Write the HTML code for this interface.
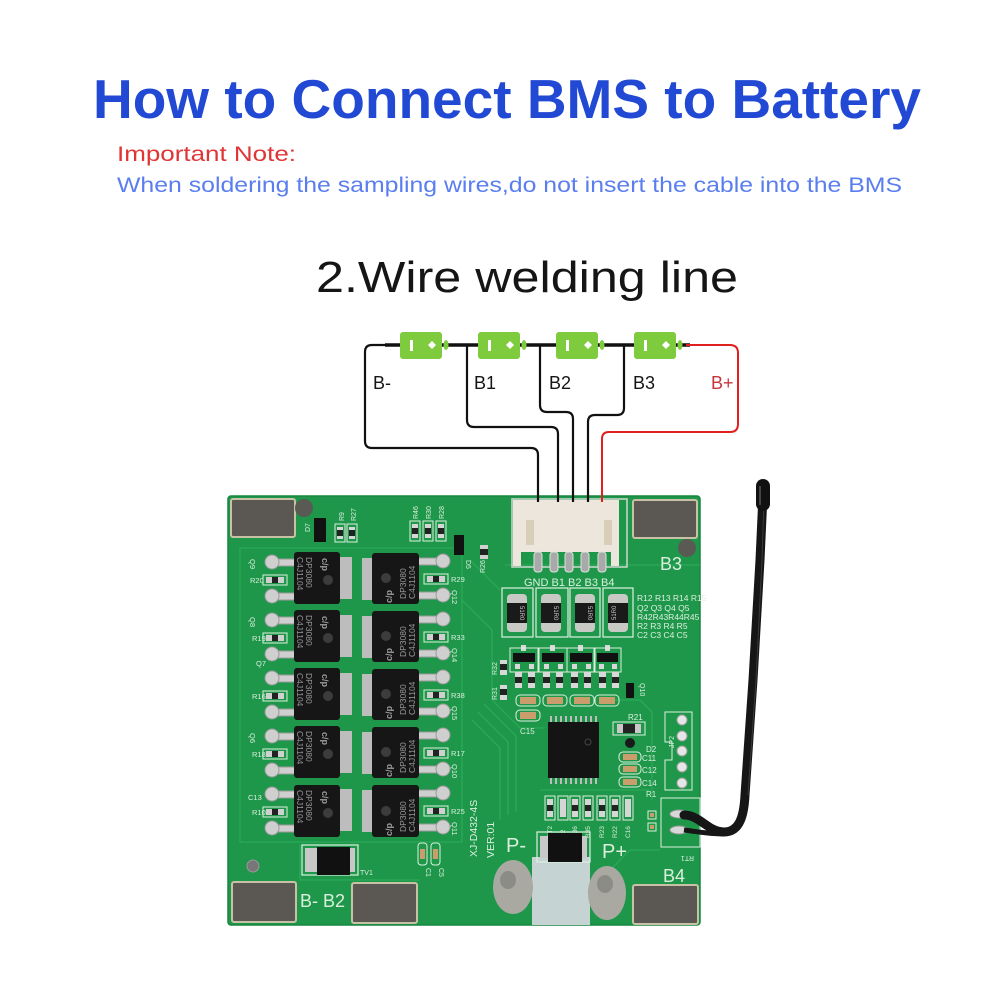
<!DOCTYPE html>
<html><head><meta charset="utf-8"><style>
html,body{margin:0;padding:0;background:#fff;}
svg{display:block;}
</style></head><body>
<svg width="1000" height="1000" viewBox="0 0 1000 1000" xmlns="http://www.w3.org/2000/svg" font-family="Liberation Sans, sans-serif">
<rect width="1000" height="1000" fill="#fff"/>
<!-- headings -->
<text x="93" y="118" font-size="55" font-weight="bold" fill="#2149d4" textLength="828" lengthAdjust="spacingAndGlyphs">How to Connect BMS to Battery</text>
<text x="117" y="161" font-size="21" fill="#e03535" textLength="179" lengthAdjust="spacingAndGlyphs">Important Note:</text>
<text x="117" y="192" font-size="21" fill="#5a7ef0" textLength="785" lengthAdjust="spacingAndGlyphs">When soldering the sampling wires,do not insert the cable into the BMS</text>
<text x="316" y="292" font-size="44" fill="#151515" textLength="422" lengthAdjust="spacingAndGlyphs">2.Wire welding line</text>

<!-- thermistor back part drawn later -->
<!-- board -->
<rect x="228" y="496" width="472" height="429" rx="3" fill="#1f974a" stroke="#17863f" stroke-width="1.5"/>
<!-- traces -->
<g fill="none" stroke="#2bab5a" stroke-width="1.3" opacity="0.9">
<path d="M240,548 H462 V842 H240 Z"/>
<path d="M462,600 L492,630 V700 L520,728 H545"/>
<path d="M470,560 L500,590"/>
<path d="M472,720 L500,748 V820"/>
<path d="M478,712 L508,742 V815"/>
<path d="M484,704 L516,736 V812"/>
<path d="M505,565 H700"/>
<path d="M600,700 H640 L652,712 V800"/>
<path d="M540,790 H650"/>
<path d="M300,845 V880 H420"/>
<path d="M600,880 L630,850 H660"/>
</g>
<!-- pads -->
<g fill="#5b5753" stroke="#c9c1a6" stroke-width="2">
<rect x="231" y="499" width="64" height="38" rx="2"/>
<rect x="633" y="500" width="64" height="38" rx="2"/>
<rect x="232" y="882" width="64" height="40" rx="2"/>
<rect x="352" y="883" width="65" height="40" rx="2"/>
<rect x="633" y="885" width="65" height="39" rx="2"/>
</g>
<circle cx="304" cy="508" r="9" fill="#5a5a55"/>
<circle cx="687" cy="548" r="9" fill="#5a5a55"/>
<circle cx="253" cy="866" r="6" fill="#777" stroke="#999"/>

<!-- silk labels -->
<g fill="#dcefdf" font-size="18">
<text x="660" y="570">B3</text>
<text x="663" y="882">B4</text>
<text x="300" y="907">B-  B2</text>
<text x="506" y="852" font-size="20">P-</text>
<text x="602" y="858" font-size="20">P+</text>
</g>

<!-- connector -->
<rect x="512" y="499" width="115" height="68" fill="none" stroke="#cfd8cf" stroke-width="1.5"/>
<rect x="513" y="500" width="106" height="52" fill="#ece6dc"/>
<rect x="513" y="552" width="8" height="14" fill="#ece6dc"/>
<rect x="611" y="552" width="8" height="14" fill="#ece6dc"/>
<rect x="526" y="520" width="8" height="25" fill="#d9cfb8"/>
<rect x="604" y="520" width="8" height="25" fill="#d9cfb8"/>
<g fill="#a9a9a9" stroke="#e0e0e0" stroke-width="1">
<rect x="534" y="552" width="8" height="20" rx="3"/>
<rect x="550" y="552" width="8" height="20" rx="3"/>
<rect x="565" y="552" width="8" height="20" rx="3"/>
<rect x="581" y="552" width="8" height="20" rx="3"/>
<rect x="598" y="552" width="8" height="20" rx="3"/>
</g>
<text x="524" y="586" font-size="11" fill="#dcefdf">GND B1 B2 B3 B4</text>

<!-- big resistors -->
<g>
<g fill="none" stroke="#dcefdf" stroke-width="1.2">
<rect x="502" y="588" width="31" height="49"/><rect x="536" y="588" width="32" height="49"/><rect x="570" y="588" width="30" height="49"/><rect x="603" y="588" width="30" height="49"/>
</g>
<g fill="#c8c8c4"><rect x="507" y="594" width="20" height="38" rx="4"/><rect x="541" y="594" width="20" height="38" rx="4"/><rect x="575" y="594" width="20" height="38" rx="4"/><rect x="608" y="594" width="20" height="38" rx="4"/></g>
<g fill="#1a1a1a"><rect x="507" y="603" width="20" height="20"/><rect x="541" y="603" width="20" height="20"/><rect x="575" y="603" width="20" height="20"/><rect x="608" y="603" width="20" height="20"/></g>
<g fill="#cfcfcf" font-size="6"><text transform="translate(520,606) rotate(90)">51R0</text><text transform="translate(554,606) rotate(90)">51R0</text><text transform="translate(588,606) rotate(90)">51R0</text><text transform="translate(616,620) rotate(-90)">51R0</text></g>
</g>
<g fill="#dcefdf" font-size="8.5">
<text x="637" y="601">R12 R13 R14 R15</text>
<text x="637" y="611">Q2  Q3  Q4  Q5</text>
<text x="637" y="620">R42R43R44R45</text>
<text x="637" y="629">R2  R3  R4  R5</text>
<text x="637" y="638">C2  C3  C4  C5</text>
</g>

<!-- SOT23 row -->
<g fill="#111"><rect x="513" y="653" width="22" height="9"/><rect x="542" y="653" width="22" height="9"/><rect x="570" y="653" width="22" height="9"/><rect x="597" y="653" width="21" height="9"/></g>
<g fill="#d8d8d8"><rect x="521" y="645" width="5" height="6"/><rect x="550" y="645" width="5" height="6"/><rect x="578" y="645" width="5" height="6"/><rect x="605" y="645" width="5" height="6"/>
<rect x="515" y="664" width="5" height="5"/><rect x="529" y="664" width="5" height="5"/><rect x="544" y="664" width="5" height="5"/><rect x="558" y="664" width="5" height="5"/><rect x="572" y="664" width="5" height="5"/><rect x="586" y="664" width="5" height="5"/><rect x="599" y="664" width="5" height="5"/><rect x="612" y="664" width="5" height="5"/></g>
<g fill="none" stroke="#dcefdf" stroke-width="1"><rect x="510" y="648" width="28" height="24"/><rect x="539" y="648" width="28" height="24"/><rect x="567" y="648" width="28" height="24"/><rect x="594" y="648" width="27" height="24"/></g>
<!-- small resistors -->
<g>
<g fill="#d8d8d8"><rect x="515" y="672" width="7" height="16"/><rect x="528" y="672" width="7" height="16"/><rect x="543" y="672" width="7" height="16"/><rect x="556" y="672" width="7" height="16"/><rect x="571" y="672" width="7" height="16"/><rect x="584" y="672" width="7" height="16"/><rect x="599" y="672" width="7" height="16"/><rect x="612" y="672" width="7" height="16"/><rect x="500" y="660" width="7" height="15"/><rect x="500" y="685" width="7" height="15"/></g>
<g fill="#222"><rect x="515" y="677" width="7" height="6"/><rect x="528" y="677" width="7" height="6"/><rect x="543" y="677" width="7" height="6"/><rect x="556" y="677" width="7" height="6"/><rect x="571" y="677" width="7" height="6"/><rect x="584" y="677" width="7" height="6"/><rect x="599" y="677" width="7" height="6"/><rect x="612" y="677" width="7" height="6"/><rect x="500" y="664" width="7" height="6"/><rect x="500" y="689" width="7" height="6"/></g>
</g>
<!-- caps -->
<g>
<g fill="none" stroke="#dcefdf" stroke-width="1"><rect x="516" y="695" width="24" height="11" rx="4"/><rect x="543" y="695" width="24" height="11" rx="4"/><rect x="570" y="695" width="24" height="11" rx="4"/><rect x="595" y="695" width="24" height="11" rx="4"/><rect x="516" y="710" width="24" height="11" rx="4"/></g>
<g fill="#c99d6c"><rect x="520" y="697" width="16" height="7"/><rect x="547" y="697" width="16" height="7"/><rect x="574" y="697" width="16" height="7"/><rect x="599" y="697" width="16" height="7"/><rect x="520" y="712" width="16" height="7"/></g>
</g>
<text x="520" y="734" font-size="8" fill="#dcefdf">C15</text>
<rect x="626" y="683" width="8" height="15" fill="#111"/>
<text transform="translate(640,683) rotate(90)" font-size="7" fill="#dcefdf">Q10</text>
<text transform="translate(497,675) rotate(-90)" font-size="7" fill="#dcefdf">R32</text>
<text transform="translate(497,700) rotate(-90)" font-size="7" fill="#dcefdf">R31</text>
<text transform="translate(485,573) rotate(-90)" font-size="7" fill="#dcefdf">R26</text>
<rect x="480" y="545" width="8" height="14" fill="#d0d0d0"/><rect x="480" y="549" width="8" height="6" fill="#222"/>

<!-- IC -->
<g fill="#bdbdbd">
<rect x="550" y="716" width="2" height="7"/><rect x="555" y="716" width="2" height="7"/><rect x="560" y="716" width="2" height="7"/><rect x="565" y="716" width="2" height="7"/><rect x="570" y="716" width="2" height="7"/><rect x="575" y="716" width="2" height="7"/><rect x="580" y="716" width="2" height="7"/><rect x="585" y="716" width="2" height="7"/><rect x="590" y="716" width="2" height="7"/><rect x="595" y="716" width="2" height="7"/>
<rect x="550" y="777" width="2" height="7"/><rect x="555" y="777" width="2" height="7"/><rect x="560" y="777" width="2" height="7"/><rect x="565" y="777" width="2" height="7"/><rect x="570" y="777" width="2" height="7"/><rect x="575" y="777" width="2" height="7"/><rect x="580" y="777" width="2" height="7"/><rect x="585" y="777" width="2" height="7"/><rect x="590" y="777" width="2" height="7"/><rect x="595" y="777" width="2" height="7"/>
</g>
<rect x="548" y="722" width="51" height="56" fill="#141414"/>
<circle cx="588" cy="742" r="3" fill="none" stroke="#444"/>

<!-- R21, D2, caps -->
<rect x="613" y="722" width="32" height="13" fill="none" stroke="#dcefdf"/>
<rect x="617" y="724" width="24" height="9" fill="#c8c8c8"/><rect x="623" y="724" width="12" height="9" fill="#222"/>
<text x="628" y="720" font-size="8" fill="#dcefdf">R21</text>
<circle cx="630" cy="743" r="5" fill="#1a1a1a"/>
<text x="646" y="752" font-size="8" fill="#dcefdf">D2</text>
<g fill="none" stroke="#dcefdf"><rect x="619" y="752" width="22" height="10" rx="4"/><rect x="619" y="764" width="22" height="10" rx="4"/><rect x="619" y="777" width="22" height="10" rx="4"/></g>
<g fill="#c99d6c"><rect x="623" y="754" width="14" height="6"/><rect x="623" y="766" width="14" height="6"/><rect x="623" y="779" width="14" height="6"/></g>
<g fill="#dcefdf" font-size="8"><text x="642" y="761">C11</text><text x="642" y="773">C12</text><text x="642" y="786">C14</text><text x="646" y="797">R1</text></g>

<!-- JP2 -->
<path d="M665,712 H692 V790 H665 V760 H672 V742 H665 Z" fill="none" stroke="#dcefdf" stroke-width="1"/>
<g fill="#e6e6e6" stroke="#a0a0a0"><circle cx="682" cy="720" r="5"/><circle cx="682" cy="736" r="5"/><circle cx="682" cy="751" r="5"/><circle cx="682" cy="767" r="5"/><circle cx="682" cy="783" r="5"/></g>
<text transform="translate(674,748) rotate(-90)" font-size="7" fill="#dcefdf">JP2</text>

<!-- RT1 -->
<rect x="661" y="798" width="39" height="49" fill="none" stroke="#dcefdf"/>
<rect x="648" y="811" width="8" height="8" fill="none" stroke="#dcefdf"/><rect x="648" y="823" width="8" height="8" fill="none" stroke="#dcefdf"/>
<rect x="650" y="813" width="4" height="4" fill="#c99d6c"/><rect x="650" y="825" width="4" height="4" fill="#c99d6c"/>
<g fill="#d8d8d8" stroke="#999"><ellipse cx="679" cy="814" rx="9" ry="4"/><ellipse cx="679" cy="830" rx="9" ry="4"/></g>
<text transform="translate(694,856) rotate(180)" font-size="7" fill="#dcefdf">RT1</text>

<!-- bottom row resistors -->
<g fill="none" stroke="#dcefdf"><rect x="545" y="796" width="10" height="24"/><rect x="558" y="796" width="10" height="24"/><rect x="570" y="796" width="10" height="24"/><rect x="583" y="796" width="10" height="24"/><rect x="597" y="796" width="10" height="24"/><rect x="610" y="796" width="10" height="24"/><rect x="623" y="796" width="10" height="24"/></g>
<g fill="#d6d6d6"><rect x="547" y="799" width="6" height="18"/><rect x="560" y="799" width="6" height="18"/><rect x="572" y="799" width="6" height="18"/><rect x="585" y="799" width="6" height="18"/><rect x="599" y="799" width="6" height="18"/><rect x="612" y="799" width="6" height="18"/><rect x="625" y="799" width="6" height="18"/></g>
<g fill="#222"><rect x="547" y="805" width="6" height="6"/><rect x="572" y="805" width="6" height="6"/><rect x="585" y="805" width="6" height="6"/><rect x="599" y="805" width="6" height="6"/><rect x="612" y="805" width="6" height="6"/></g>
<g fill="#dcefdf" font-size="6.5"><text transform="translate(552,838) rotate(-90)">RT2</text><text transform="translate(565,838) rotate(-90)">C2</text><text transform="translate(577,838) rotate(-90)">R36</text><text transform="translate(590,838) rotate(-90)">R35</text><text transform="translate(604,838) rotate(-90)">R23</text><text transform="translate(617,838) rotate(-90)">R22</text><text transform="translate(630,838) rotate(-90)">C16</text></g>

<!-- P- strip / component -->
<rect x="532" y="857" width="58" height="68" fill="#c6d3d3"/>
<rect x="537" y="832" width="53" height="30" fill="none" stroke="#dcefdf" stroke-width="1.2"/>
<rect x="540" y="836" width="47" height="22" fill="#c8c8c8"/>
<rect x="548" y="833" width="34" height="29" fill="#111"/>
<!-- solder blobs -->
<ellipse cx="513" cy="887" rx="20" ry="27" fill="#a9a9a2"/>
<ellipse cx="508" cy="880" rx="8" ry="9" fill="#7a7a75" opacity="0.6"/>
<ellipse cx="607" cy="893" rx="19" ry="27" fill="#a9a9a2"/>
<ellipse cx="605" cy="884" rx="8" ry="9" fill="#7a7a75" opacity="0.6"/>

<!-- TV1, C1, C5 -->
<rect x="302" y="845" width="56" height="30" fill="none" stroke="#dcefdf" stroke-width="1.2"/>
<rect x="305" y="848" width="50" height="24" fill="#c8c8c8"/>
<rect x="317" y="847" width="33" height="28" fill="#111"/>
<text x="360" y="875" font-size="7" fill="#dcefdf">TV1</text>
<g fill="none" stroke="#dcefdf"><rect x="418" y="843" width="9" height="22" rx="3"/><rect x="431" y="843" width="9" height="22" rx="3"/></g>
<g fill="#c99d6c"><rect x="420" y="849" width="5" height="10"/><rect x="433" y="849" width="5" height="10"/></g>
<text transform="translate(426,868) rotate(90)" font-size="7" fill="#dcefdf">C1</text>
<text transform="translate(439,868) rotate(90)" font-size="7" fill="#dcefdf">C5</text>
<text transform="translate(477,857) rotate(-90)" font-size="10.5" fill="#dcefdf">XJ-D432-4S</text>
<text transform="translate(494,858) rotate(-90)" font-size="10.5" fill="#dcefdf">VER:01</text>

<!-- top-left small parts -->
<rect x="314" y="518" width="12" height="24" fill="#111"/>
<text transform="translate(310,532) rotate(-90)" font-size="7" fill="#dcefdf">D7</text>
<g fill="none" stroke="#dcefdf"><rect x="335" y="524" width="10" height="18"/><rect x="347" y="524" width="10" height="18"/><rect x="410" y="521" width="10" height="20"/><rect x="423" y="521" width="10" height="20"/><rect x="436" y="521" width="10" height="20"/></g>
<g fill="#d6d6d6"><rect x="337" y="527" width="6" height="12"/><rect x="349" y="527" width="6" height="12"/><rect x="412" y="524" width="6" height="14"/><rect x="425" y="524" width="6" height="14"/><rect x="438" y="524" width="6" height="14"/></g>
<g fill="#222"><rect x="337" y="530" width="6" height="6"/><rect x="349" y="530" width="6" height="6"/><rect x="412" y="528" width="6" height="6"/><rect x="425" y="528" width="6" height="6"/><rect x="438" y="528" width="6" height="6"/></g>
<g fill="#dcefdf" font-size="7"><text transform="translate(344,521) rotate(-90)">R9</text><text transform="translate(356,521) rotate(-90)">R27</text><text transform="translate(418,519) rotate(-90)">R46</text><text transform="translate(431,519) rotate(-90)">R30</text><text transform="translate(444,519) rotate(-90)">R28</text><text transform="translate(466,560) rotate(90)">D5</text></g>
<rect x="454" y="535" width="10" height="20" fill="#111"/>

<!-- MOSFETs left column -->
<g id="ml">
<g fill="#cfcfcf" stroke="#9a9a9a" stroke-width="1">
<rect x="270" y="559" width="26" height="7"/><circle cx="272" cy="562" r="7"/>
<rect x="270" y="593" width="26" height="7"/><circle cx="272" cy="596" r="7"/>
<rect x="270" y="617" width="26" height="7"/><circle cx="272" cy="620" r="7"/>
<rect x="270" y="651" width="26" height="7"/><circle cx="272" cy="654" r="7"/>
<rect x="270" y="675" width="26" height="7"/><circle cx="272" cy="678" r="7"/>
<rect x="270" y="709" width="26" height="7"/><circle cx="272" cy="712" r="7"/>
<rect x="270" y="733" width="26" height="7"/><circle cx="272" cy="736" r="7"/>
<rect x="270" y="767" width="26" height="7"/><circle cx="272" cy="770" r="7"/>
<rect x="270" y="791" width="26" height="7"/><circle cx="272" cy="794" r="7"/>
<rect x="270" y="825" width="26" height="7"/><circle cx="272" cy="828" r="7"/>
</g>
<g fill="none" stroke="#dcefdf"><rect x="263" y="575" width="24" height="10"/><rect x="263" y="633" width="24" height="10"/><rect x="263" y="691" width="24" height="10"/><rect x="263" y="749" width="24" height="10"/><rect x="263" y="807" width="24" height="10"/></g>
<g fill="#d0d0d0"><rect x="266" y="577" width="18" height="6"/><rect x="266" y="635" width="18" height="6"/><rect x="266" y="693" width="18" height="6"/><rect x="266" y="751" width="18" height="6"/><rect x="266" y="809" width="18" height="6"/></g>
<g fill="#222"><rect x="272" y="577" width="6" height="6"/><rect x="272" y="635" width="6" height="6"/><rect x="272" y="693" width="6" height="6"/><rect x="272" y="751" width="6" height="6"/><rect x="272" y="809" width="6" height="6"/></g>
<g fill="#bdbdbd"><rect x="339" y="557" width="13" height="42"/><rect x="339" y="615" width="13" height="42"/><rect x="339" y="673" width="13" height="42"/><rect x="339" y="731" width="13" height="42"/><rect x="339" y="789" width="13" height="42"/></g>
<g fill="#161616"><rect x="294" y="552" width="46" height="52" rx="3"/><rect x="294" y="610" width="46" height="52" rx="3"/><rect x="294" y="668" width="46" height="52" rx="3"/><rect x="294" y="726" width="46" height="52" rx="3"/><rect x="294" y="785" width="46" height="52" rx="3"/></g>
<g fill="#3c3c3c"><circle cx="328" cy="580" r="5"/><circle cx="328" cy="638" r="5"/><circle cx="328" cy="696" r="5"/><circle cx="328" cy="754" r="5"/><circle cx="328" cy="813" r="5"/></g>
<g fill="#9c9c9c" font-size="8.5">
<text transform="translate(306,557) rotate(90)">DP3080</text><text transform="translate(297,557) rotate(90)">C4J1104</text>
<text transform="translate(306,615) rotate(90)">DP3080</text><text transform="translate(297,615) rotate(90)">C4J1104</text>
<text transform="translate(306,673) rotate(90)">DP3080</text><text transform="translate(297,673) rotate(90)">C4J1104</text>
<text transform="translate(306,731) rotate(90)">DP3080</text><text transform="translate(297,731) rotate(90)">C4J1104</text>
<text transform="translate(306,790) rotate(90)">DP3080</text><text transform="translate(297,790) rotate(90)">C4J1104</text>
</g>
<g fill="#a0a0a0" font-size="9" font-weight="bold">
<text transform="translate(322,558) rotate(90)">c/p</text><text transform="translate(322,616) rotate(90)">c/p</text><text transform="translate(322,674) rotate(90)">c/p</text><text transform="translate(322,732) rotate(90)">c/p</text><text transform="translate(322,791) rotate(90)">c/p</text>
</g>
<g fill="#dcefdf" font-size="7.5">
<text transform="translate(250,559) rotate(90)">Q9</text><text x="250" y="583">R20</text>
<text transform="translate(250,617) rotate(90)">Q8</text><text x="252" y="641">R19</text>
<text x="256" y="666">Q7</text><text x="252" y="699">R16</text>
<text transform="translate(250,733) rotate(90)">Q6</text><text x="252" y="757">R18</text>
<text x="248" y="800">C13</text><text x="252" y="815">R10</text>
</g>
</g>

<!-- MOSFETs right column -->
<g>
<g fill="#cfcfcf" stroke="#9a9a9a" stroke-width="1">
<rect x="418" y="558" width="26" height="7"/><circle cx="443" cy="561" r="7"/>
<rect x="418" y="592" width="26" height="7"/><circle cx="443" cy="595" r="7"/>
<rect x="418" y="616" width="26" height="7"/><circle cx="443" cy="619" r="7"/>
<rect x="418" y="650" width="26" height="7"/><circle cx="443" cy="653" r="7"/>
<rect x="418" y="674" width="26" height="7"/><circle cx="443" cy="677" r="7"/>
<rect x="418" y="708" width="26" height="7"/><circle cx="443" cy="711" r="7"/>
<rect x="418" y="732" width="26" height="7"/><circle cx="443" cy="735" r="7"/>
<rect x="418" y="766" width="26" height="7"/><circle cx="443" cy="769" r="7"/>
<rect x="418" y="790" width="26" height="7"/><circle cx="443" cy="793" r="7"/>
<rect x="418" y="824" width="26" height="7"/><circle cx="443" cy="827" r="7"/>
</g>
<g fill="none" stroke="#dcefdf"><rect x="424" y="574" width="24" height="10"/><rect x="424" y="632" width="24" height="10"/><rect x="424" y="690" width="24" height="10"/><rect x="424" y="748" width="24" height="10"/><rect x="424" y="806" width="24" height="10"/></g>
<g fill="#d0d0d0"><rect x="427" y="576" width="18" height="6"/><rect x="427" y="634" width="18" height="6"/><rect x="427" y="692" width="18" height="6"/><rect x="427" y="750" width="18" height="6"/><rect x="427" y="808" width="18" height="6"/></g>
<g fill="#222"><rect x="433" y="576" width="6" height="6"/><rect x="433" y="634" width="6" height="6"/><rect x="433" y="692" width="6" height="6"/><rect x="433" y="750" width="6" height="6"/><rect x="433" y="808" width="6" height="6"/></g>
<g fill="#bdbdbd"><rect x="362" y="558" width="12" height="42"/><rect x="362" y="616" width="12" height="42"/><rect x="362" y="674" width="12" height="42"/><rect x="362" y="732" width="12" height="42"/><rect x="362" y="790" width="12" height="42"/></g>
<g fill="#161616"><rect x="372" y="553" width="47" height="51" rx="3"/><rect x="372" y="611" width="47" height="51" rx="3"/><rect x="372" y="669" width="47" height="51" rx="3"/><rect x="372" y="727" width="47" height="51" rx="3"/><rect x="372" y="785" width="47" height="52" rx="3"/></g>
<g fill="#3c3c3c"><circle cx="386" cy="578" r="5"/><circle cx="386" cy="636" r="5"/><circle cx="386" cy="694" r="5"/><circle cx="386" cy="752" r="5"/><circle cx="386" cy="811" r="5"/></g>
<g fill="#9c9c9c" font-size="8.5">
<text transform="translate(406,599) rotate(-90)">DP3080</text><text transform="translate(415,599) rotate(-90)">C4J1104</text>
<text transform="translate(406,657) rotate(-90)">DP3080</text><text transform="translate(415,657) rotate(-90)">C4J1104</text>
<text transform="translate(406,715) rotate(-90)">DP3080</text><text transform="translate(415,715) rotate(-90)">C4J1104</text>
<text transform="translate(406,773) rotate(-90)">DP3080</text><text transform="translate(415,773) rotate(-90)">C4J1104</text>
<text transform="translate(406,832) rotate(-90)">DP3080</text><text transform="translate(415,832) rotate(-90)">C4J1104</text>
</g>
<g fill="#a0a0a0" font-size="9" font-weight="bold">
<text transform="translate(392,603) rotate(-90)">c/p</text><text transform="translate(392,661) rotate(-90)">c/p</text><text transform="translate(392,719) rotate(-90)">c/p</text><text transform="translate(392,777) rotate(-90)">c/p</text><text transform="translate(392,836) rotate(-90)">c/p</text>
</g>
<g fill="#dcefdf" font-size="7.5">
<text x="451" y="582">R29</text><text transform="translate(452,590) rotate(90)">Q12</text>
<text x="451" y="640">R33</text><text transform="translate(452,648) rotate(90)">Q14</text>
<text x="451" y="698">R38</text><text transform="translate(452,706) rotate(90)">Q15</text>
<text x="451" y="756">R17</text><text transform="translate(452,764) rotate(90)">Q10</text>
<text x="451" y="814">R25</text><text transform="translate(452,822) rotate(90)">Q11</text>
</g>
</g>

<!-- thermistor -->
<path d="M684,815 C700,815 708,832 724,832 C740,832 744,815 745,795 L753,680 L760,560 L763,495" fill="none" stroke="#161616" stroke-width="9" stroke-linecap="round"/>
<path d="M684,830 C700,832 708,834 724,834" fill="none" stroke="#161616" stroke-width="5"/>
<path d="M748,795 L756,680 L762,560 L764,500" fill="none" stroke="#3a3a3a" stroke-width="1"/>
<rect x="756" y="479" width="14" height="32" rx="7" fill="#111"/>
<path d="M760,486 V505" stroke="#555" stroke-width="1.5"/>

<!-- wires -->
<g fill="none" stroke-linejoin="round">
<path d="M385,345 H690" stroke="#111" stroke-width="3.5"/>
<path d="M400,345 H372 Q365,345 365,352 V441 Q365,448 372,448 H531 Q538,448 538,455 V502" stroke="#111" stroke-width="2.2"/>
<path d="M467,345 V420 Q467,427 474,427 H551 Q558,427 558,434 V502" stroke="#111" stroke-width="2.2"/>
<path d="M540,345 V405 Q540,412 547,412 H566 Q573,412 573,419 V502" stroke="#111" stroke-width="2.2"/>
<path d="M624,345 V408 Q624,415 617,415 H595 Q588,415 588,422 V502" stroke="#111" stroke-width="2.2"/>
<path d="M686,345 H730 Q738,345 738,353 V424 Q738,432 730,432 H609 Q602,432 602,439 V502" stroke="#e01f1f" stroke-width="2"/>
</g>
<!-- batteries -->
<g>
<g fill="#7fcb3e"><rect x="400" y="332" width="42" height="27" rx="3"/><rect x="478" y="332" width="42" height="27" rx="3"/><rect x="556" y="332" width="42" height="27" rx="3"/><rect x="634" y="332" width="42" height="27" rx="3"/>
<ellipse cx="446" cy="345" rx="2.5" ry="5"/><ellipse cx="524" cy="345" rx="2.5" ry="5"/><ellipse cx="602" cy="345" rx="2.5" ry="5"/><ellipse cx="680" cy="345" rx="2.5" ry="5"/></g>
<g fill="#fff"><rect x="410" y="340" width="3" height="11"/><rect x="488" y="340" width="3" height="11"/><rect x="566" y="340" width="3" height="11"/><rect x="644" y="340" width="3" height="11"/>
<path d="M432,341 L436,345 L432,349 L428,345 Z"/><path d="M510,341 L514,345 L510,349 L506,345 Z"/><path d="M588,341 L592,345 L588,349 L584,345 Z"/><path d="M666,341 L670,345 L666,349 L662,345 Z"/></g>
</g>
<g font-size="18" fill="#151515">
<text x="373" y="389">B-</text>
<text x="474" y="389">B1</text>
<text x="549" y="389">B2</text>
<text x="633" y="389">B3</text>
<text x="711" y="389" fill="#c8363a">B+</text>
</g>
</svg>
</body></html>
